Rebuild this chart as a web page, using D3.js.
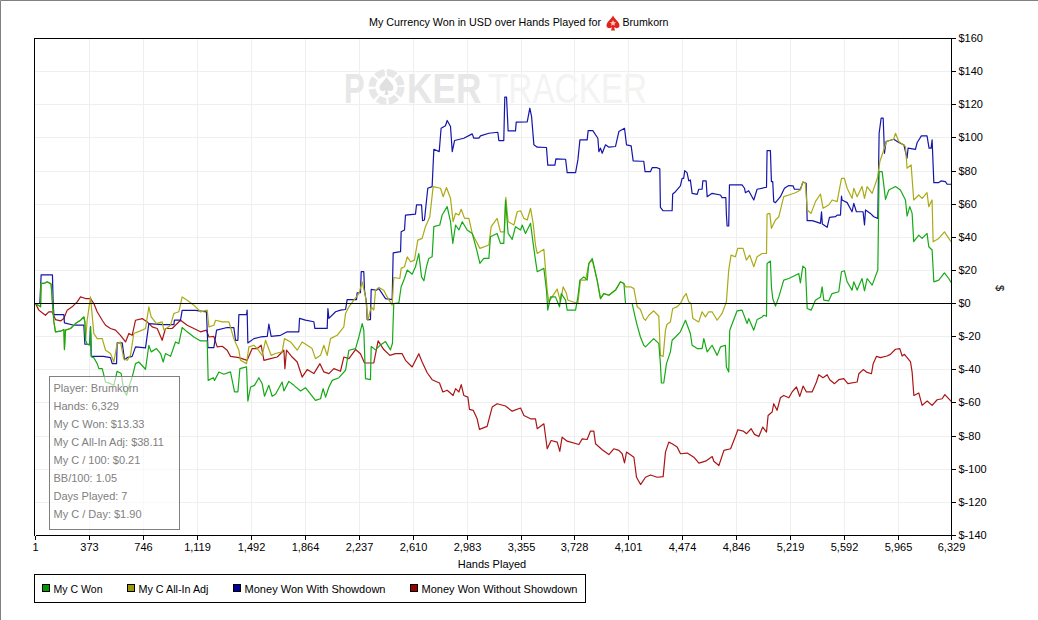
<html>
  <head>
    <title> My Currency Won </title>
    <style>
      html, body { margin: 0; padding: 0; background: #fff; overflow: hidden; }
      text { font-family: "Liberation Sans", Arial, sans-serif; font-size: 11px; fill: #000; }
    </style>
  </head>
  <body>
  <script src="https://d3js.org/d3.v7.min.js"></script>

    <script>
    var w = 1038;
    var h = 620;

    // [hand, dollars]
    var green = [[1,0],[36,-2],[40,12.1],[59,12.1],[82,13.1],[109,11.7],[118,0],[128,-11.1],[139,-17.1],[174,-16.7],[197,-15.7],[201,-27.8],[208,-16.1],[243,-15.1],[277,-12.1],[312,-10.1],[335,-8.1],[342,-11.1],[347,-22.2],[358,-24.6],[376,-25.2],[381,-14.1],[388,-32.3],[404,-32.7],[427,-36.3],[439,-39.3],[462,-39.3],[485,-47.4],[519,-48.4],[542,-49.4],[565,-40.9],[593,-42.3],[611,-52.4],[630,-55.4],[646,-50.4],[669,-44.4],[692,-36.3],[715,-35.3],[761,-39.7],[784,-25.2],[800,-29.2],[837,-27.2],[865,-30.2],[883,-35.3],[899,-30.2],[934,-31.9],[968,-23.2],[991,-24.2],[1014,-14.5],[1049,-17.1],[1095,-20.2],[1141,-22.6],[1187,-22.6],[1194,-46.4],[1229,-44.8],[1238,-46.4],[1268,-41.3],[1302,-42.7],[1348,-41.3],[1376,-53.4],[1399,-53.4],[1413,-39.3],[1459,-38.3],[1468,-58.9],[1487,-50.4],[1514,-49.4],[1544,-44.8],[1567,-48.4],[1583,-56],[1613,-49.4],[1636,-56],[1659,-54.8],[1705,-47.4],[1717,-52.8],[1751,-47],[1786,-49.4],[1832,-52.8],[1866,-50.8],[1889,-53.4],[1935,-58.5],[1970,-57.5],[1988,-51.4],[2005,-56.5],[2028,-50.4],[2051,-46.4],[2097,-44.8],[2143,-40.3],[2166,-28.2],[2212,-27.2],[2235,-20.2],[2258,-12.1],[2269,-16.1],[2281,-45.4],[2315,-46],[2320,-26],[2350,-28],[2384,-25],[2419,-23],[2453,-28],[2467,-24],[2472,-10],[2476,0],[2511,0.4],[2527,10.1],[2550,15.1],[2569,20.2],[2603,17.7],[2626,22.2],[2649,30.2],[2668,16.1],[2684,13.7],[2702,22.2],[2718,27.2],[2741,28.2],[2753,46.4],[2794,47.4],[2810,53.4],[2845,58.5],[2868,49.4],[2884,36.3],[2903,47.4],[2926,44.4],[2949,49.4],[2983,44.4],[3018,42.3],[3052,31.3],[3071,24.2],[3098,27.2],[3133,27.2],[3144,40.3],[3190,42.3],[3213,36.3],[3236,36.3],[3248,62.5],[3266,42.3],[3294,38.7],[3317,46.4],[3352,44.4],[3363,47.4],[3386,42.3],[3421,48.4],[3439,36.3],[3455,26.2],[3467,19.2],[3513,21.2],[3531,8.1],[3540,-4],[3559,4],[3593,4],[3621,-2],[3633,6],[3663,2],[3674,-4],[3732,-4],[3748,4],[3762,14.1],[3789,16.1],[3812,14.1],[3824,24.2],[3847,27.2],[3881,14.1],[3904,3],[3927,6],[3962,5],[4008,8.1],[4042,13.1],[4066,12.1],[4077,0],[4123,0],[4146,-9.1],[4160,-14],[4180,-20.2],[4203,-25.2],[4215,-26.2],[4249,-23.2],[4272,-21.2],[4307,-24.2],[4318,-36.3],[4325,-48],[4341,-48],[4360,-36.3],[4387,-29.2],[4399,-22.2],[4422,-20.2],[4456,-17.1],[4491,-10.1],[4525,-18.1],[4537,-25.2],[4572,-27.2],[4606,-27.2],[4618,-21.2],[4641,-29.2],[4675,-25.2],[4710,-31.3],[4733,-26.2],[4767,-25.2],[4774,-38.3],[4790,-41.3],[4797,-16.1],[4848,-4.4],[4882,-4],[4917,-12.1],[4928,-9.1],[4963,-16.1],[4986,-9.7],[5021,-8.1],[5032,-7.1],[5051,-7.7],[5055,24.2],[5078,25.6],[5085,10.1],[5094,3],[5113,-1.6],[5136,4],[5170,14.1],[5205,15.1],[5251,17.1],[5274,18.1],[5285,12.5],[5302,22.6],[5320,21.2],[5332,-3],[5359,-4],[5389,2],[5424,4],[5435,10.1],[5447,2],[5481,1.6],[5504,6],[5550,7.1],[5569,19.2],[5589,19.8],[5608,13.1],[5642,8.1],[5654,13.1],[5677,8.1],[5711,15.1],[5728,7.7],[5746,15.1],[5781,11.1],[5820,20.2],[5829,79.6],[5850,79.6],[5873,62.9],[5896,68.5],[5942,70.6],[5976,68.5],[6011,62.5],[6022,52.8],[6041,58.5],[6057,54.4],[6068,37.3],[6103,41.3],[6126,39.3],[6160,42.3],[6172,34.3],[6195,32.3],[6207,13.1],[6241,14.1],[6280,18.5],[6310,15.1],[6326,12.7]];

    var olive = [[1,0],[36,-2],[40,12.1],[59,12.1],[82,13.1],[109,11.7],[118,0],[128,-11.1],[139,-17.1],[174,-16.7],[197,-15.7],[201,-27.8],[208,-16.1],[243,-15.1],[277,-12.1],[312,-10.1],[335,-8.1],[342,-11.1],[347,-22.2],[358,-10.1],[381,4],[404,-18.1],[427,-21.2],[462,-21.2],[485,-28.2],[519,-30.2],[542,-35.3],[565,-24.2],[588,-23.2],[611,-33.3],[634,-34.3],[657,-31.3],[680,-18.1],[738,-16.1],[761,-15.1],[784,-2],[800,-8.1],[837,-12.1],[876,-11.1],[888,-16.1],[934,-13.1],[957,-6],[991,-5],[1014,4],[1049,2],[1095,-1],[1141,-5],[1187,-4],[1199,-14.1],[1233,-13.1],[1245,-10.1],[1291,-11.1],[1337,-11.1],[1371,-21.2],[1406,-28.2],[1417,-34.3],[1459,-36.3],[1475,-26.2],[1510,-25.2],[1533,-27.2],[1567,-31.3],[1590,-22.2],[1629,-31.3],[1659,-30.2],[1705,-29.2],[1721,-21.2],[1763,-23.2],[1809,-28.2],[1843,-23.2],[1878,-25.2],[1912,-27.2],[1935,-33.3],[1970,-31.3],[1993,-25.2],[2016,-31.3],[2039,-21.2],[2085,-19.2],[2131,-14.1],[2143,-6],[2166,-2],[2200,2],[2235,6],[2258,13.1],[2281,4],[2297,-10.1],[2320,-2],[2338,-4],[2350,8],[2373,9.7],[2407,8],[2430,4],[2465,-1],[2476,15.7],[2518,15.1],[2527,21.2],[2550,22.2],[2569,28.2],[2592,25.2],[2619,26.2],[2642,38.3],[2672,39.3],[2695,46.4],[2725,52.4],[2748,70.6],[2799,69.6],[2817,64.5],[2840,70],[2868,63.5],[2886,49.4],[2903,54.4],[2926,53.4],[2942,56.9],[2965,51.4],[2995,51.4],[3018,42.3],[3041,38.3],[3071,33.3],[3133,35.3],[3149,46.4],[3190,51.4],[3213,43.3],[3241,43.3],[3250,64.1],[3266,49.4],[3306,47.4],[3329,55.4],[3352,56],[3375,51.4],[3398,50.4],[3421,57.5],[3439,48.4],[3455,35.3],[3467,30.2],[3513,32.7],[3536,8],[3547,1],[3605,8.7],[3628,1],[3646,10.1],[3669,6],[3679,2],[3748,0],[3766,14.1],[3801,14.1],[3824,24.2],[3847,26.2],[3881,14.1],[3904,3],[3927,6],[3962,5],[4008,8.1],[4042,13.1],[4066,12.1],[4077,10.1],[4112,10.1],[4135,9],[4158,-2],[4180,-3.6],[4203,-9.1],[4215,-10.1],[4238,-7.1],[4272,-4.4],[4307,-7.7],[4318,-31.3],[4337,-31.9],[4353,-16.1],[4364,-12.5],[4387,-11.1],[4403,-3],[4433,-2],[4456,0],[4479,4],[4496,6],[4514,1],[4530,0],[4542,-9.1],[4583,-11.1],[4606,-5],[4629,-8.1],[4652,-5],[4675,-5],[4710,-10.1],[4744,-6],[4774,1],[4790,20.2],[4806,29.2],[4836,28.2],[4852,33.3],[4889,33.3],[4912,26.2],[4935,29.2],[4963,22.2],[4986,28.2],[5021,30.2],[5051,30.2],[5055,54],[5074,54.4],[5085,45.4],[5113,50.4],[5136,52.4],[5170,64.5],[5205,65.5],[5251,66.9],[5285,68.5],[5302,73.6],[5320,72.6],[5332,56.5],[5359,54.4],[5389,61.5],[5424,66.1],[5442,57.5],[5481,59.5],[5504,62.5],[5539,61.5],[5569,75.6],[5589,75.6],[5608,69.6],[5642,63.5],[5654,69.6],[5677,64.5],[5711,70.6],[5728,63.5],[5746,70.6],[5781,66.5],[5820,76.6],[5834,85.7],[5861,92.7],[5880,97.8],[5930,99.2],[5942,102.8],[5965,97.8],[6011,94.8],[6022,81.7],[6050,83.7],[6068,62.5],[6103,65.5],[6126,63.5],[6160,66.9],[6172,58.5],[6195,62.5],[6202,37.3],[6241,39.3],[6280,43.3],[6310,39.3],[6326,37.3]];

    var blue = [[1,0],[31,0],[40,17.3],[118,17.3],[123,0],[128,-6.7],[197,-6.7],[201,-11.7],[266,-13.1],[335,-13.1],[342,-24.6],[376,-24.6],[381,-14],[386,-31.9],[469,-31.9],[519,-32.7],[531,-36.3],[561,-36.3],[565,-23.8],[600,-23.8],[616,-33.9],[634,-32.7],[669,-31.9],[692,-26.2],[761,-26.8],[784,-12.1],[876,-12.7],[957,-12.7],[961,-10],[1003,-10],[1014,-4.2],[1106,-4.2],[1182,-5],[1192,-26.6],[1233,-26.6],[1252,-16.1],[1325,-14.5],[1371,-14.5],[1383,-22.2],[1399,-22.2],[1406,-6.7],[1459,-6.7],[1463,-4],[1468,-23.8],[1510,-21.2],[1556,-20.2],[1602,-19.8],[1613,-12.5],[1629,-19.8],[1694,-19.2],[1740,-17.1],[1820,-17.1],[1825,-9],[1866,-10],[1924,-11],[1931,-15],[2016,-15],[2021,-3],[2028,-9],[2074,-5],[2108,-4],[2143,-3.6],[2154,2.4],[2219,2.4],[2223,6.5],[2246,6.5],[2251,19.2],[2269,19.2],[2274,8],[2288,0],[2292,-9.7],[2315,-9.7],[2320,8.5],[2357,8],[2373,9],[2419,3],[2465,2.4],[2472,30.6],[2523,31.3],[2527,43.3],[2550,44.4],[2557,53.4],[2626,54],[2633,59.5],[2668,59.5],[2675,50],[2688,50.4],[2711,69.6],[2741,70.6],[2753,93.1],[2790,91.7],[2803,105.8],[2833,107.3],[2845,110.5],[2868,106.9],[2880,91.7],[2896,98.4],[2960,99.8],[3018,102.4],[3029,99.8],[3064,99.8],[3075,101.2],[3133,102.8],[3195,103.4],[3202,98.4],[3236,98.4],[3243,124.6],[3255,124.6],[3266,104.2],[3317,104.2],[3322,109.5],[3398,109.7],[3416,117.9],[3428,112.9],[3444,95.8],[3467,94.4],[3531,94.2],[3540,83.5],[3589,83.5],[3596,87.3],[3663,87.1],[3674,79],[3732,79],[3748,86.7],[3762,98.8],[3812,98.8],[3819,104.4],[3851,104.4],[3886,99.8],[3893,91.7],[3904,93.8],[3916,90.7],[3939,95.8],[3962,94.4],[4008,94.8],[4031,103.8],[4070,105.8],[4084,95.8],[4116,95.2],[4130,86.1],[4180,85.9],[4203,85.9],[4212,79.6],[4249,79.6],[4261,82],[4295,82],[4314,81.3],[4318,58.1],[4337,56],[4399,56],[4403,66.1],[4422,67.5],[4456,71],[4468,75.6],[4479,75.6],[4486,80.2],[4502,79],[4514,74],[4525,74.6],[4537,66.5],[4572,65.9],[4583,69],[4606,69],[4611,74],[4634,74],[4641,64.5],[4675,66.5],[4733,65.5],[4744,63.9],[4770,63.9],[4774,53.4],[4779,46.8],[4790,46.8],[4795,71.6],[4882,71.6],[4899,69.6],[4905,66.9],[4928,68.1],[4963,62.5],[4986,69],[5051,70.2],[5055,92.3],[5078,92.3],[5085,73.6],[5094,73.6],[5101,61.5],[5113,60.9],[5147,64.5],[5175,69.6],[5205,71.2],[5235,71],[5244,69],[5285,69],[5302,73.2],[5325,72.6],[5332,50],[5366,50],[5389,49.4],[5424,48.4],[5431,55.4],[5437,48],[5470,46],[5486,52],[5527,52.4],[5539,53.4],[5562,53.4],[5569,64.9],[5573,62.5],[5608,60.9],[5642,55.4],[5654,60.5],[5672,55.4],[5718,55.4],[5728,47.4],[5735,56.5],[5769,54.4],[5792,52.4],[5820,51.4],[5829,102.8],[5843,111.9],[5857,111.9],[5866,90.7],[5877,97.8],[5930,99.2],[5965,97.2],[6000,95.8],[6022,87.7],[6029,93.8],[6080,93.1],[6092,97.2],[6121,101.2],[6160,101.2],[6174,93.8],[6188,93.8],[6195,98.8],[6207,73],[6241,73],[6257,74],[6287,73.6],[6299,72],[6326,72]];

    var red = [[1,0],[24,-4],[47,-5.6],[70,-7.1],[93,-5],[116,-5],[139,-9.7],[174,-10.5],[197,-9.1],[220,-4],[254,-2],[289,1],[312,4],[347,3],[381,3],[404,0],[427,-5],[462,-10.1],[485,-13.1],[519,-15.1],[554,-16.1],[588,-19.2],[623,-23.2],[646,-18.1],[669,-19.2],[692,-10.1],[738,-9.1],[773,-11.1],[807,-14.1],[842,-15.1],[876,-22.2],[899,-15.1],[945,-15.1],[1003,-10.1],[1049,-13.1],[1095,-15.1],[1141,-17.1],[1182,-16.1],[1199,-20.2],[1233,-19.8],[1256,-26.2],[1291,-25.8],[1325,-28.2],[1348,-31.9],[1406,-32.7],[1463,-34.3],[1498,-27.2],[1533,-27.2],[1560,-25.2],[1579,-34.3],[1625,-33.3],[1671,-32.3],[1717,-28.2],[1724,-39.3],[1735,-28.2],[1774,-32.3],[1809,-35.3],[1843,-44.4],[1878,-39.9],[1924,-42.3],[1966,-36.3],[1993,-41.3],[2028,-42.3],[2062,-39.3],[2108,-40.9],[2131,-32.3],[2166,-33.3],[2212,-27.8],[2246,-30.3],[2274,-35.9],[2338,-35.9],[2368,-22.6],[2407,-27.8],[2449,-31.3],[2488,-30.3],[2534,-30.3],[2557,-34.3],[2603,-38.3],[2649,-30.3],[2672,-35.3],[2707,-41.8],[2741,-46],[2792,-48],[2815,-53.4],[2845,-52.4],[2886,-55.5],[2903,-51.4],[2926,-53.4],[2942,-49],[2960,-55.5],[2988,-56.5],[2999,-63.9],[3025,-64.5],[3052,-69.6],[3068,-76],[3121,-74.2],[3156,-62.5],[3190,-60.5],[3248,-61.9],[3294,-65],[3352,-63.1],[3375,-67.6],[3421,-69.6],[3455,-69.6],[3467,-75.6],[3513,-72.6],[3536,-87.7],[3563,-82.7],[3605,-83.7],[3623,-89.3],[3639,-80.7],[3674,-83.1],[3755,-85.1],[3778,-81.7],[3812,-82.1],[3835,-77],[3858,-77],[3870,-84.7],[3916,-88.3],[3962,-91.2],[3996,-87.7],[4031,-88.7],[4054,-90.7],[4070,-96.2],[4084,-89.7],[4135,-92.8],[4153,-104.9],[4181,-109.3],[4215,-104.9],[4250,-103.5],[4296,-104.9],[4337,-104.5],[4353,-89.7],[4376,-83.7],[4399,-84.7],[4434,-86.7],[4457,-90.7],[4503,-90.3],[4549,-92.8],[4584,-96.4],[4630,-95.2],[4676,-92.4],[4687,-95.2],[4722,-97.8],[4757,-88.7],[4803,-87.7],[4830,-81.7],[4853,-76.2],[4890,-77],[4913,-78.6],[4945,-75.6],[4968,-79],[4998,-80.3],[5025,-74.6],[5051,-77.6],[5062,-67.6],[5090,-65.5],[5101,-60.5],[5124,-64.5],[5147,-56.9],[5170,-55.5],[5205,-56.9],[5228,-53.4],[5258,-50.4],[5281,-56.1],[5304,-49.8],[5327,-53.4],[5366,-53.4],[5396,-47.4],[5412,-43],[5442,-44.8],[5470,-43],[5488,-46],[5521,-48.4],[5550,-46],[5585,-45.4],[5613,-48.4],[5677,-47.4],[5689,-42.4],[5719,-39.9],[5742,-41.4],[5776,-42.4],[5788,-36.3],[5811,-31.9],[5838,-32.7],[5884,-31.7],[5907,-30.7],[5942,-27.6],[5972,-27.2],[5988,-31.7],[6004,-30.7],[6046,-35.3],[6057,-41.4],[6069,-55.5],[6103,-54],[6126,-61.5],[6161,-58.9],[6195,-61.5],[6230,-58.1],[6264,-57.5],[6283,-55],[6327,-59.1]];

    // drawn back to front, first legend entry ends up on top
    var series = [
      {name: 'Money Won Without Showdown', color: '#aa1515', key: '#990000', lx: 410.5, len: 156, values: red},
      {name: 'Money Won With Showdown', color: '#1515aa', key: '#000099', lx: 233.5, len: 141, values: blue},
      {name: 'My C All-In Adj', color: '#aaaa15', key: '#999900', lx: 127.5, len: 70, values: olive},
      {name: 'My C Won', color: '#15aa15', key: '#009900', lx: 42.5, len: 49, values: green}
    ];

    var handTicks = [1,373,746,1119,1492,1864,2237,2610,2983,3355,3728,4101,4474,4846,5219,5592,5965,6329];
    var dollarTicks = d3.range(-140, 161, 20);

    var svg = d3.select('body')
                .append('svg')
                .attr('width', w)
                .attr('height', h)
                .style('display', 'block');

    var x = d3.scaleLinear().domain([1, 6329]).range([35.5, 951.5]);
    var y = d3.scaleLinear().domain([-140, 160]).range([535.4, 38.5]);
    var snap = v => Math.floor(v) + 0.5;

    // window edge
    svg.append('path').attr('d', 'M0.5,620V0.5H1038').attr('fill', 'none').attr('stroke', '#808080');

    // grid
    var grid = svg.append('g').attr('stroke', '#efefef').attr('shape-rendering', 'crispEdges');
    grid.selectAll('.v').data(handTicks.slice(1, -1)).enter().append('line')
        .attr('x1', d => snap(x(d))).attr('x2', d => snap(x(d)))
        .attr('y1', 38.5).attr('y2', 535.5);
    grid.selectAll('.h').data(dollarTicks.slice(1, -1)).enter().append('line')
        .attr('x1', 34.5).attr('x2', 951.5)
        .attr('y1', d => snap(y(d))).attr('y2', d => snap(y(d)));

    // watermark
    var mark = svg.append('g').style('font-weight', 'bold');
    mark.append('text').attr('transform', 'translate(344,103) scale(0.72,1)')
        .style('font-size', '43px').style('fill', '#e7e7e7').text('P');
    mark.append('circle').attr('cx', 386.5).attr('cy', 87).attr('r', 14.5).attr('fill', 'none')
        .attr('stroke', '#e7e7e7').attr('stroke-width', 7).attr('stroke-dasharray', '9 2.4');
    mark.append('path').attr('d', 'M386.5,77c3,5 7,7 7,11c0,3 -4,4 -6,2l1,5h-4l1,-5c-2,2 -6,1 -6,-2c0,-4 4,-6 7,-11z').attr('fill', '#e0e0e0');
    mark.append('text').attr('transform', 'translate(407,103) scale(0.82,1)')
        .style('font-size', '43px').style('fill', '#e7e7e7').text('KER');
    mark.append('text').attr('transform', 'translate(488,103) scale(0.775,1)')
        .style('font-size', '43px').style('font-weight', 'normal').style('fill', '#f3f3f3').text('TRACKER');

    // frame on the top and left
    svg.append('path').attr('d', 'M34.5,535.5V38.5H951.5').attr('fill', 'none').attr('stroke', '#000').attr('shape-rendering', 'crispEdges');

    var line = d3.line().x(d => x(d[0])).y(d => y(d[1]));

    svg.selectAll('.series')
       .data(series)
       .enter()
       .append('path')
       .attr('class', 'series')
       .attr('d', d => line(d.values))
       .attr('fill', 'none')
       .attr('stroke', d => d.color)
       .attr('stroke-width', 1.2)
       .attr('stroke-linejoin', 'round');

    svg.append('line')
       .attr('x1', 34.5).attr('x2', 951.5)
       .attr('y1', snap(y(0))).attr('y2', snap(y(0)))
       .attr('stroke', '#000')
       .attr('shape-rendering', 'crispEdges');

    // axes
    var xAxis = d3.axisBottom(x).tickValues(handTicks).tickFormat(d3.format(',')).tickSize(4).tickSizeOuter(0).offset(0);
    var yAxis = d3.axisRight(y).tickValues(dollarTicks).tickFormat(d => '$' + d).tickSize(4).tickSizeOuter(0).offset(0);

    var gx = svg.append('g').attr('transform', 'translate(0,535.5)').call(xAxis);
    var gy = svg.append('g').attr('transform', 'translate(951.5,0)').call(yAxis);
    gx.selectAll('.tick').attr('transform', d => 'translate(' + snap(x(d)) + ',0)');
    gy.selectAll('.tick').attr('transform', d => 'translate(0,' + snap(y(d)) + ')');
    [gx, gy].forEach(function(g) {
      g.selectAll('.domain, line').attr('stroke', '#000').attr('shape-rendering', 'crispEdges');
      g.selectAll('text').attr('fill', '#000').style('font-family', '"Liberation Sans", Arial, sans-serif').style('font-size', '11px');
    });
    gx.selectAll('text').attr('y', 8);
    gy.selectAll('text').attr('x', 7);

    svg.append('text').attr('x', 492).attr('y', 568).attr('text-anchor', 'middle').text('Hands Played');
    svg.append('text').attr('transform', 'translate(996,288) rotate(90)').attr('text-anchor', 'middle').text('$');

    // title
    svg.append('text').attr('x', 369).attr('y', 26).attr('textLength', 232).attr('lengthAdjust', 'spacingAndGlyphs')
       .text('My Currency Won in USD over Hands Played for');
    svg.append('text').attr('x', 622.5).attr('y', 26).attr('textLength', 46).attr('lengthAdjust', 'spacingAndGlyphs')
       .text('Brumkorn');
    svg.append('path')
       .attr('d', 'M613,15.500c2,4 6.500,6.500 6.500,10c0,3 -4,3.500 -5.500,1.500l1,3.500h-4l1,-3.500c-1.500,2 -5.500,1.500 -5.500,-1.500c0,-3.500 4.500,-6 6.500,-10z')
       .attr('fill', '#e0241c');
    svg.append('path')
       .attr('d', 'M613,20l1,2l2,.3l-1.500,1.400l.4,2l-1.900,-1l-1.900,1l.4,-2l-1.500,-1.400l2,-.3z')
       .attr('fill', '#f8c8b8');

    // stats box
    var stats = ['Player: Brumkorn', 'Hands: 6,329', 'My C Won: $13.33', 'My C All-In Adj: $38.11',
                 'My C / 100: $0.21', 'BB/100: 1.05', 'Days Played: 7', 'My C / Day: $1.90'];
    svg.append('rect').attr('x', 49.5).attr('y', 376.5).attr('width', 130).attr('height', 153)
       .attr('fill', 'rgba(255,255,255,0.6)').attr('stroke', '#808080').attr('shape-rendering', 'crispEdges');
    svg.selectAll('.stat').data(stats).enter().append('text')
       .attr('class', 'stat')
       .attr('x', 53.5)
       .attr('y', (d, i) => 392 + i * 18)
       .style('fill', '#808080')
       .text(d => d);

    // legend
    svg.append('rect').attr('x', 34.5).attr('y', 574.5).attr('width', 551).attr('height', 28)
       .attr('fill', '#fff').attr('stroke', '#000').attr('shape-rendering', 'crispEdges');
    var legend = svg.selectAll('.key').data(series.slice().reverse()).enter().append('g')
       .attr('class', 'key')
       .attr('transform', d => 'translate(' + d.lx + ',584.5)');
    legend.append('rect').attr('width', 7).attr('height', 7)
       .attr('fill', d => d.key).attr('stroke', '#000').attr('shape-rendering', 'crispEdges');
    legend.append('text').attr('x', 11).attr('y', 8)
       .attr('textLength', d => d.len).attr('lengthAdjust', 'spacingAndGlyphs')
       .text(d => d.name);

    </script>
  </body>
</html>
